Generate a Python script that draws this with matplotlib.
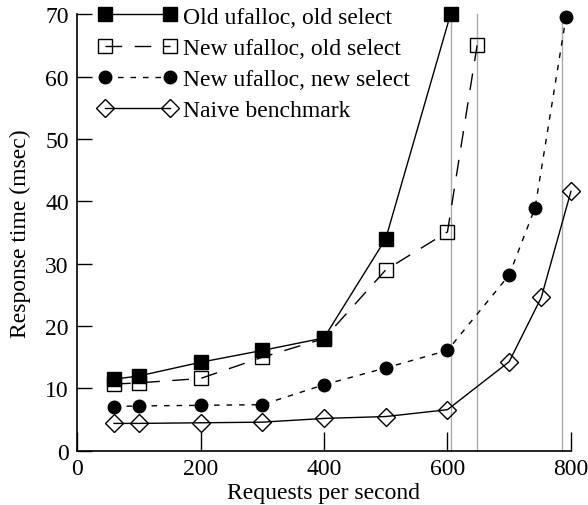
import matplotlib
matplotlib.use("Agg")
import matplotlib.pyplot as plt

plt.rcParams['font.family'] = ['Liberation Serif', 'DejaVu Serif']
plt.rcParams['font.size'] = 17

# Data
old_old_x = [60, 100, 200, 300, 400, 500, 605]
old_old_y = [11.5, 12.0, 14.2, 16.1, 18.1, 34.0, 70.0]

new_old_x = [60, 100, 200, 300, 400, 500, 600, 648]
new_old_y = [10.7, 10.9, 11.6, 15.0, 18.0, 29.0, 35.1, 65.0]

new_new_x = [60, 100, 200, 300, 400, 500, 600, 700, 742, 792]
new_new_y = [7.1, 7.2, 7.3, 7.4, 10.6, 13.3, 16.1, 28.2, 39.0, 69.5]

naive_x = [60, 100, 200, 300, 400, 500, 600, 700, 752, 800]
naive_y = [4.4, 4.4, 4.5, 4.6, 5.2, 5.5, 6.6, 14.3, 24.6, 41.6]

limit_x = [605, 648, 786]

labels = ["Old ufalloc, old select", "New ufalloc, old select",
          "New ufalloc, new select", "Naive benchmark"]

x_ticks = [0, 200, 400, 600, 800]
y_ticks = [0, 10, 20, 30, 40, 50, 60, 70]

fig = plt.figure(figsize=(5.88, 5.06), dpi=100)
ax = fig.add_axes([0.131, 0.107, 0.84, 0.863])

for lx in limit_x:
    ax.axvline(lx, color='#aaaaaa', lw=1.0, zorder=1)

ax.plot(old_old_x, old_old_y, color='black', lw=1.0, ls='-',
        marker='s', ms=10, mfc='black', mec='black', label=labels[0], zorder=3)
ax.plot(new_old_x, new_old_y, color='black', lw=1.0, ls=(0, (12, 9)),
        marker='s', ms=10, mfc='none', mec='black', mew=1.0, label=labels[1], zorder=3)
ax.plot(new_new_x, new_new_y, color='black', lw=1.0, ls=(0, (4, 5)),
        marker='o', ms=9, mfc='black', mec='black', label=labels[2], zorder=3)
ax.plot(naive_x, naive_y, color='black', lw=1.0, ls='-',
        marker='D', ms=9, mfc='none', mec='black', mew=1.0, label=labels[3], zorder=3)

ax.set_xlim(0, 800)
ax.set_ylim(0, 70)
ax.set_xticks(x_ticks)
ax.set_yticks(y_ticks)
for t in ax.lines:
    t.set_clip_on(False)

ax.spines['top'].set_visible(False)
ax.spines['right'].set_visible(False)
ax.spines['left'].set_linewidth(1.2)
ax.spines['bottom'].set_linewidth(1.2)
ax.tick_params(axis='x', direction='in', length=14, width=1.0, pad=5)
ax.tick_params(axis='y', direction='in', length=11, width=1.0, pad=6)

ax.set_xlabel("Requests per second", labelpad=2.5)
ax.set_ylabel("Response time (msec)", labelpad=10)

leg = ax.legend(loc='upper left', frameon=False, numpoints=2,
                handlelength=3.35, handletextpad=0.25, labelspacing=0.41,
                borderaxespad=0.0, bbox_to_anchor=(0.024, 1.04))

fig.savefig("out.png", dpi=100)
